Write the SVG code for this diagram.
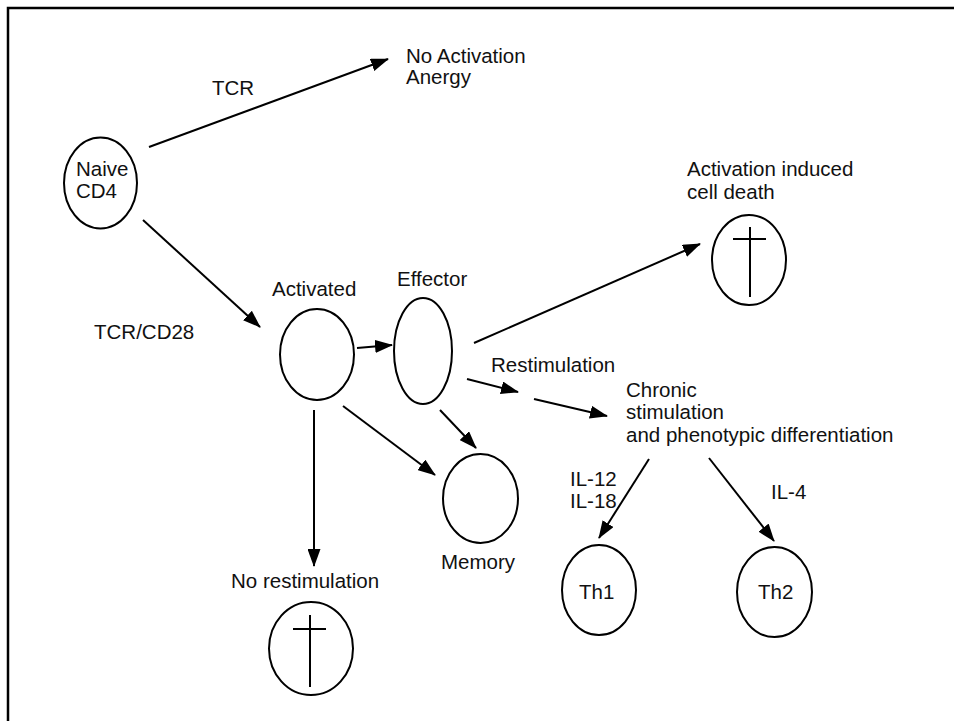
<svg xmlns="http://www.w3.org/2000/svg" width="954" height="721" viewBox="0 0 954 721">
<style>
text{font-family:"Liberation Sans",Arial,sans-serif;font-size:20.5px;fill:#111}
.cell{fill:none;stroke:#000;stroke-width:2}
.cn{stroke:#000;stroke-width:2;fill:none}
.cross{stroke:#000;stroke-width:2}
</style>
<defs>
<marker id="ah" viewBox="0 0 18 13" refX="17" refY="6.5" markerWidth="18" markerHeight="13" markerUnits="userSpaceOnUse" orient="auto">
<path d="M0,0 L18,6.5 L0,13 z" fill="#000"/>
</marker>
</defs>
<rect width="954" height="721" fill="#fff"/>
<path d="M8,721 L8,8 L954,8" fill="none" stroke="#000" stroke-width="2.5"/>

<g id="connectors">
<line class="cn" x1="149" y1="147" x2="388" y2="59" marker-end="url(#ah)"/>
<line class="cn" x1="143" y1="220" x2="260" y2="327" marker-end="url(#ah)"/>
<line class="cn" x1="357" y1="348" x2="392" y2="345" marker-end="url(#ah)"/>
<line class="cn" x1="474" y1="343" x2="700" y2="244" marker-end="url(#ah)"/>
<line class="cn" x1="467" y1="379" x2="518" y2="392" marker-end="url(#ah)"/>
<line class="cn" x1="534" y1="399" x2="607" y2="416" marker-end="url(#ah)"/>
<line class="cn" x1="440" y1="410" x2="476" y2="448" marker-end="url(#ah)"/>
<line class="cn" x1="343" y1="406" x2="435" y2="475" marker-end="url(#ah)"/>
<line class="cn" x1="314" y1="410" x2="314" y2="566" marker-end="url(#ah)"/>
<line class="cn" x1="649" y1="459" x2="599" y2="538" marker-end="url(#ah)"/>
<line class="cn" x1="709" y1="458" x2="774" y2="541" marker-end="url(#ah)"/>
<text x="212" y="95">TCR</text>
<text x="94" y="339">TCR/CD28</text>
<text x="491" y="372">Restimulation</text>
<text x="570" y="486">IL-12</text>
<text x="570" y="508">IL-18</text>
<text x="771" y="499">IL-4</text>
</g>

<g id="naive">
<ellipse class="cell" cx="100.5" cy="183" rx="36.5" ry="45.5"/>
<text x="76" y="176">Naive</text>
<text x="76" y="198">CD4</text>
</g>

<g id="anergy">
<text x="406" y="63">No Activation</text>
<text x="406" y="84">Anergy</text>
</g>

<g id="aicd">
<text x="687" y="176">Activation induced</text>
<text x="687" y="199">cell death</text>
<ellipse class="cell" cx="749" cy="260" rx="37" ry="45"/>
<line class="cross" x1="750" y1="227" x2="750" y2="297"/>
<line class="cross" x1="733" y1="239" x2="766" y2="239"/>
</g>

<g id="activated">
<text x="272" y="296">Activated</text>
<ellipse class="cell" cx="317" cy="354.5" rx="37" ry="45.5"/>
</g>

<g id="effector">
<text x="397" y="286">Effector</text>
<ellipse class="cell" cx="423" cy="351" rx="29" ry="53"/>
</g>

<g id="memory">
<ellipse class="cell" cx="480.5" cy="498.5" rx="37.5" ry="44.5"/>
<text x="441" y="569">Memory</text>
</g>

<g id="norestim">
<text x="231" y="588">No restimulation</text>
<ellipse class="cell" cx="311" cy="648.5" rx="42" ry="46.5"/>
<line class="cross" x1="310" y1="615" x2="310" y2="687"/>
<line class="cross" x1="293" y1="629" x2="326" y2="629"/>
</g>

<g id="chronic">
<text x="626" y="397">Chronic</text>
<text x="626" y="419">stimulation</text>
<text x="626" y="442">and phenotypic differentiation</text>
</g>

<g id="th1">
<ellipse class="cell" cx="599" cy="590" rx="37" ry="45"/>
<text x="579" y="599">Th1</text>
</g>

<g id="th2">
<ellipse class="cell" cx="774.5" cy="592" rx="37.5" ry="45"/>
<text x="758" y="599">Th2</text>
</g>
</svg>
